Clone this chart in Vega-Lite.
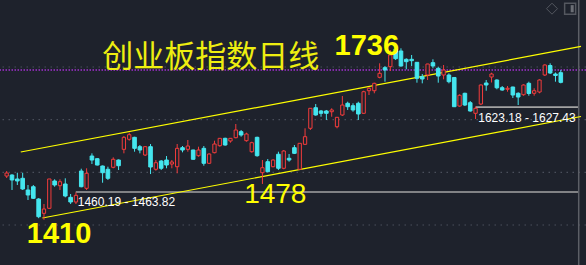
{
  "$schema": "https://vega.github.io/schema/vega-lite/v6.json",
  "width": 586,
  "height": 265,
  "autosize": {"type": "none"},
  "padding": 0,
  "background": "#1e222c",
  "config": {"view": {"stroke": null}},
  "datasets": {
    "candles": [
      {"i":1,"o":1493.0,"h":1502.5,"l":1489.2,"c":1498.7},
      {"i":2,"o":1494.9,"h":1496.5,"l":1466.5,"c":1485.5},
      {"i":3,"o":1487.4,"h":1499.3,"l":1476.0,"c":1483.6},
      {"i":4,"o":1488.7,"h":1499.3,"l":1466.5,"c":1468.4},
      {"i":5,"o":1466.5,"h":1476.0,"l":1447.5,"c":1457.0},
      {"i":6,"o":1472.7,"h":1476.0,"l":1449.4,"c":1450.7},
      {"i":7,"o":1449.4,"h":1451.0,"l":1413.0,"c":1415.8},
      {"i":8,"o":1422.2,"h":1439.9,"l":1410.0,"c":1430.4},
      {"i":9,"o":1431.7,"h":1487.4,"l":1431.7,"c":1487.4},
      {"i":10,"o":1483.6,"h":1486.8,"l":1472.7,"c":1476.0},
      {"i":11,"o":1474.6,"h":1486.8,"l":1466.5,"c":1482.2},
      {"i":12,"o":1477.9,"h":1488.7,"l":1452.6,"c":1455.1},
      {"i":13,"o":1452.6,"h":1458.9,"l":1439.9,"c":1443.7},
      {"i":14,"o":1443.7,"h":1462.0,"l":1439.9,"c":1456.4},
      {"i":15,"o":1502.5,"h":1506.9,"l":1471.6,"c":1472.7},
      {"i":16,"o":1469.7,"h":1507.7,"l":1466.5,"c":1498.2},
      {"i":17,"o":1531.0,"h":1536.1,"l":1515.8,"c":1523.4},
      {"i":18,"o":1525.9,"h":1527.0,"l":1513.0,"c":1513.9},
      {"i":19,"o":1512.0,"h":1513.0,"l":1480.3,"c":1499.3},
      {"i":20,"o":1505.8,"h":1510.7,"l":1485.5,"c":1488.7},
      {"i":21,"o":1509.6,"h":1528.5,"l":1507.7,"c":1524.8},
      {"i":22,"o":1523.4,"h":1524.5,"l":1504.4,"c":1512.6},
      {"i":23,"o":1543.7,"h":1569.0,"l":1536.1,"c":1566.5},
      {"i":24,"o":1562.7,"h":1575.3,"l":1560.1,"c":1571.5},
      {"i":25,"o":1566.5,"h":1567.5,"l":1539.2,"c":1545.6},
      {"i":26,"o":1548.7,"h":1551.9,"l":1536.1,"c":1542.4},
      {"i":27,"o":1532.9,"h":1550.0,"l":1531.0,"c":1548.7},
      {"i":28,"o":1548.7,"h":1553.8,"l":1496.8,"c":1510.1},
      {"i":29,"o":1505.8,"h":1523.4,"l":1503.1,"c":1518.3},
      {"i":30,"o":1521.5,"h":1523.4,"l":1504.4,"c":1507.7},
      {"i":31,"o":1523.4,"h":1531.0,"l":1507.7,"c":1513.9},
      {"i":32,"o":1515.8,"h":1523.4,"l":1507.7,"c":1519.6},
      {"i":33,"o":1510.7,"h":1553.8,"l":1498.2,"c":1545.6},
      {"i":34,"o":1546.8,"h":1550.0,"l":1538.0,"c":1542.4},
      {"i":35,"o":1543.7,"h":1561.4,"l":1539.2,"c":1550.0},
      {"i":36,"o":1542.4,"h":1543.0,"l":1524.0,"c":1524.8},
      {"i":37,"o":1531.6,"h":1548.7,"l":1529.7,"c":1542.4},
      {"i":38,"o":1545.6,"h":1550.0,"l":1512.6,"c":1517.2},
      {"i":39,"o":1517.2,"h":1536.1,"l":1515.8,"c":1534.8},
      {"i":40,"o":1537.3,"h":1560.1,"l":1536.1,"c":1553.8},
      {"i":41,"o":1550.6,"h":1565.2,"l":1548.7,"c":1564.6},
      {"i":42,"o":1564.6,"h":1565.8,"l":1550.6,"c":1551.9},
      {"i":43,"o":1559.5,"h":1565.2,"l":1556.3,"c":1564.6},
      {"i":44,"o":1565.8,"h":1591.8,"l":1564.6,"c":1580.4},
      {"i":45,"o":1577.2,"h":1580.4,"l":1567.7,"c":1570.9},
      {"i":46,"o":1560.1,"h":1575.3,"l":1558.2,"c":1572.8},
      {"i":47,"o":1539.2,"h":1558.2,"l":1537.3,"c":1556.3},
      {"i":48,"o":1566.5,"h":1567.7,"l":1529.7,"c":1531.6},
      {"i":49,"o":1499.3,"h":1523.4,"l":1478.0,"c":1508.8},
      {"i":50,"o":1520.2,"h":1525.3,"l":1500.5,"c":1501.2},
      {"i":51,"o":1510.7,"h":1524.8,"l":1509.6,"c":1523.4},
      {"i":52,"o":1534.3,"h":1539.2,"l":1504.4,"c":1507.7},
      {"i":53,"o":1507.7,"h":1542.4,"l":1505.8,"c":1540.5},
      {"i":54,"o":1526.7,"h":1534.8,"l":1520.2,"c":1523.4},
      {"i":55,"o":1546.8,"h":1551.9,"l":1534.8,"c":1536.1},
      {"i":56,"o":1505.8,"h":1555.1,"l":1505.8,"c":1555.1},
      {"i":57,"o":1553.2,"h":1583.6,"l":1551.9,"c":1567.7},
      {"i":58,"o":1583.6,"h":1622.0,"l":1580.4,"c":1621.6},
      {"i":59,"o":1622.7,"h":1629.7,"l":1607.5,"c":1608.9},
      {"i":60,"o":1616.5,"h":1618.4,"l":1605.6,"c":1612.1},
      {"i":61,"o":1616.5,"h":1618.4,"l":1599.4,"c":1612.1},
      {"i":62,"o":1615.1,"h":1621.6,"l":1605.6,"c":1618.4},
      {"i":63,"o":1586.6,"h":1605.0,"l":1583.6,"c":1604.5},
      {"i":64,"o":1608.9,"h":1644.9,"l":1607.0,"c":1627.8},
      {"i":65,"o":1631.1,"h":1634.1,"l":1618.4,"c":1624.6},
      {"i":66,"o":1626.5,"h":1631.1,"l":1615.1,"c":1618.4},
      {"i":67,"o":1631.1,"h":1634.1,"l":1599.4,"c":1610.8},
      {"i":68,"o":1612.1,"h":1655.0,"l":1611.5,"c":1653.1},
      {"i":69,"o":1655.0,"h":1661.5,"l":1646.8,"c":1659.6},
      {"i":70,"o":1655.0,"h":1670.2,"l":1650.1,"c":1669.0},
      {"i":71,"o":1680.4,"h":1707.0,"l":1678.5,"c":1688.0},
      {"i":72,"o":1698.7,"h":1701.9,"l":1672.1,"c":1694.3},
      {"i":73,"o":1700.6,"h":1732.3,"l":1692.4,"c":1722.8},
      {"i":74,"o":1733.6,"h":1736.0,"l":1713.3,"c":1715.8},
      {"i":75,"o":1730.4,"h":1735.5,"l":1700.6,"c":1701.9},
      {"i":76,"o":1714.6,"h":1716.5,"l":1695.6,"c":1710.1},
      {"i":77,"o":1714.6,"h":1722.8,"l":1701.9,"c":1712.0},
      {"i":78,"o":1708.9,"h":1709.5,"l":1670.2,"c":1678.5},
      {"i":79,"o":1681.6,"h":1686.7,"l":1669.0,"c":1677.2},
      {"i":80,"o":1684.8,"h":1706.0,"l":1675.3,"c":1705.7},
      {"i":81,"o":1708.2,"h":1714.6,"l":1697.5,"c":1701.9},
      {"i":82,"o":1697.5,"h":1700.6,"l":1670.2,"c":1682.9},
      {"i":83,"o":1684.8,"h":1703.8,"l":1676.6,"c":1694.3},
      {"i":84,"o":1684.8,"h":1688.0,"l":1669.0,"c":1672.1},
      {"i":85,"o":1680.1,"h":1681.0,"l":1624.0,"c":1624.6},
      {"i":86,"o":1625.9,"h":1648.2,"l":1624.6,"c":1646.3},
      {"i":87,"o":1650.1,"h":1651.2,"l":1625.9,"c":1627.8},
      {"i":88,"o":1632.2,"h":1635.4,"l":1615.1,"c":1616.5},
      {"i":89,"o":1612.1,"h":1625.0,"l":1601.3,"c":1621.6},
      {"i":90,"o":1629.7,"h":1667.0,"l":1627.8,"c":1665.8},
      {"i":91,"o":1669.6,"h":1675.3,"l":1655.0,"c":1665.8},
      {"i":92,"o":1681.0,"h":1689.2,"l":1670.6,"c":1686.7},
      {"i":93,"o":1675.3,"h":1676.6,"l":1657.7,"c":1660.5},
      {"i":94,"o":1660.7,"h":1663.9,"l":1655.0,"c":1656.3},
      {"i":95,"o":1657.7,"h":1663.9,"l":1653.1,"c":1659.6},
      {"i":96,"o":1662.0,"h":1662.6,"l":1641.1,"c":1646.8},
      {"i":97,"o":1650.1,"h":1652.0,"l":1627.8,"c":1643.0},
      {"i":98,"o":1647.4,"h":1667.1,"l":1645.5,"c":1665.8},
      {"i":99,"o":1669.0,"h":1672.1,"l":1645.5,"c":1649.7},
      {"i":100,"o":1650.1,"h":1659.6,"l":1645.5,"c":1655.0},
      {"i":101,"o":1652.5,"h":1676.6,"l":1650.1,"c":1675.3},
      {"i":102,"o":1684.8,"h":1705.1,"l":1682.9,"c":1703.8},
      {"i":103,"o":1702.8,"h":1707.0,"l":1686.7,"c":1688.6},
      {"i":104,"o":1686.7,"h":1689.6,"l":1672.1,"c":1683.9},
      {"i":105,"o":1689.2,"h":1694.3,"l":1669.0,"c":1670.9}
    ],
    "grid": [{"p":1400},{"p":1500},{"p":1600},{"p":1700}],
    "channel": [
      {"line":"upper","i":3.64,"p":1538.6},
      {"line":"upper","i":108.79,"p":1739.1},
      {"line":"lower","i":7.7,"p":1413.3},
      {"line":"lower","i":108.79,"p":1606.0}
    ],
    "gaps": [
      {"i":13.97,"i2":108.4,"p":1462.7},
      {"i":89.05,"i2":108.4,"p":1623.8}
    ],
    "gapLabels": [
      {"i":14.34,"p":1436.1,"t":"1460.19 - 1463.82"},
      {"i":89.51,"p":1595.6,"t":"1623.18 - 1627.43"}
    ],
    "bigLabels": [
      {"i":68.6,"p":1722.8,"t":"1736"},
      {"i":10.83,"p":1365.8,"t":"1410"}
    ],
    "midLabels": [
      {"i":51.41,"p":1441.2,"t":"1478"}
    ],
    "title": [{"i":18.95,"p":1700.0,"t":"创业板指数日线"}]
  },
  "layer": [
    {
      "data": {"name": "grid"},
      "mark": {"type": "rule", "stroke": "#4a4f5b", "strokeWidth": 1.2, "strokeDash": [1.5, 4.5]},
      "encoding": {"y": {"field": "p", "type": "quantitative", "scale": {"domain": [1324.1, 1827.2], "nice": false, "zero": false}, "axis": null}}
    },
    {
      "data": {"values": [{"p": 1694.3}]},
      "mark": {"type": "rule", "stroke": "#a12fcf", "strokeWidth": 1.3, "strokeDash": [1.5, 1.5]},
      "encoding": {"y": {"field": "p", "type": "quantitative", "scale": {"domain": [1324.1, 1827.2], "nice": false, "zero": false}, "axis": null}}
    },
    {
      "data": {"name": "gaps"},
      "mark": {"type": "rule", "stroke": "#a3a3a3", "strokeWidth": 1.6},
      "encoding": {
        "x": {"field": "i", "type": "quantitative", "scale": {"domain": [0.686, 108.79], "nice": false, "zero": false}, "axis": null},
        "x2": {"field": "i2"},
        "y": {"field": "p", "type": "quantitative", "scale": {"domain": [1324.1, 1827.2], "nice": false, "zero": false}, "axis": null}
      }
    },
    {
      "data": {"values": [{"i": 108.36}]},
      "mark": {"type": "rule", "stroke": "#5c5f66", "strokeWidth": 1.5},
      "encoding": {"x": {"field": "i", "type": "quantitative", "scale": {"domain": [0.686, 108.79], "nice": false, "zero": false}, "axis": null}}
    },
    {
      "data": {"name": "channel"},
      "mark": {"type": "line", "stroke": "#ffff00", "strokeWidth": 1.2},
      "encoding": {
        "x": {"field": "i", "type": "quantitative", "scale": {"domain": [0.686, 108.79], "nice": false, "zero": false}, "axis": null},
        "y": {"field": "p", "type": "quantitative", "scale": {"domain": [1324.1, 1827.2], "nice": false, "zero": false}, "axis": null},
        "detail": {"field": "line"}
      }
    },
    {
      "data": {"name": "candles"},
      "mark": {"type": "rule", "strokeWidth": 1},
      "encoding": {
        "x": {"field": "i", "type": "quantitative", "scale": {"domain": [0.686, 108.79], "nice": false, "zero": false}, "axis": null},
        "y": {"field": "l", "type": "quantitative", "scale": {"domain": [1324.1, 1827.2], "nice": false, "zero": false}, "axis": null},
        "y2": {"field": "h"},
        "color": {"condition": {"test": "datum.c >= datum.o", "value": "#f23c3c"}, "value": "#45e6ef"}
      }
    },
    {
      "data": {"name": "candles"},
      "mark": {"type": "bar", "strokeWidth": 1},
      "encoding": {
        "x": {"field": "i", "type": "quantitative", "scale": {"domain": [0.686, 108.79], "nice": false, "zero": false}, "axis": null},
        "y": {"field": "o", "type": "quantitative", "scale": {"domain": [1324.1, 1827.2], "nice": false, "zero": false}, "axis": null},
        "y2": {"field": "c"},
        "size": {"condition": {"test": "datum.c >= datum.o", "value": 3.3}, "value": 3.6},
        "fill": {"condition": {"test": "datum.c >= datum.o", "value": "#1e222c"}, "value": "#45e6ef"},
        "stroke": {"condition": {"test": "datum.c >= datum.o", "value": "#f23c3c"}, "value": "#45e6ef"}
      }
    },
    {
      "data": {"name": "gapLabels"},
      "mark": {"type": "text", "align": "left", "baseline": "alphabetic", "font": "Liberation Sans", "fontSize": 12, "fill": "#ffffff"},
      "encoding": {
        "x": {"field": "i", "type": "quantitative", "scale": {"domain": [0.686, 108.79], "nice": false, "zero": false}, "axis": null},
        "y": {"field": "p", "type": "quantitative", "scale": {"domain": [1324.1, 1827.2], "nice": false, "zero": false}, "axis": null},
        "text": {"field": "t"}
      }
    },
    {
      "data": {"name": "bigLabels"},
      "mark": {"type": "text", "align": "center", "baseline": "alphabetic", "font": "Liberation Sans", "fontSize": 29, "fontWeight": "bold", "fill": "#ffff00"},
      "encoding": {
        "x": {"field": "i", "type": "quantitative", "scale": {"domain": [0.686, 108.79], "nice": false, "zero": false}, "axis": null},
        "y": {"field": "p", "type": "quantitative", "scale": {"domain": [1324.1, 1827.2], "nice": false, "zero": false}, "axis": null},
        "text": {"field": "t"}
      }
    },
    {
      "data": {"name": "midLabels"},
      "mark": {"type": "text", "align": "center", "baseline": "alphabetic", "font": "Liberation Sans", "fontSize": 28, "fill": "#ffff00"},
      "encoding": {
        "x": {"field": "i", "type": "quantitative", "scale": {"domain": [0.686, 108.79], "nice": false, "zero": false}, "axis": null},
        "y": {"field": "p", "type": "quantitative", "scale": {"domain": [1324.1, 1827.2], "nice": false, "zero": false}, "axis": null},
        "text": {"field": "t"}
      }
    },
    {
      "data": {"name": "title"},
      "mark": {"type": "text", "align": "left", "baseline": "alphabetic", "font": "Noto Sans CJK SC", "fontSize": 31, "fill": "#eeee10"},
      "encoding": {
        "x": {"field": "i", "type": "quantitative", "scale": {"domain": [0.686, 108.79], "nice": false, "zero": false}, "axis": null},
        "y": {"field": "p", "type": "quantitative", "scale": {"domain": [1324.1, 1827.2], "nice": false, "zero": false}, "axis": null},
        "text": {"field": "t"}
      }
    },
    {
      "data": {"values": [{"i": 103.35, "p": 1810.7}]},
      "mark": {"type": "point", "shape": "diamond", "size": 121, "stroke": "#6b6e75", "strokeWidth": 1, "filled": false},
      "encoding": {
        "x": {"field": "i", "type": "quantitative", "scale": {"domain": [0.686, 108.79], "nice": false, "zero": false}, "axis": null},
        "y": {"field": "p", "type": "quantitative", "scale": {"domain": [1324.1, 1827.2], "nice": false, "zero": false}, "axis": null}
      }
    },
    {
      "data": {"values": [{"i": 106.75, "p": 1810.7}]},
      "mark": {"type": "point", "shape": "square", "size": 121, "stroke": "#6b6e75", "strokeWidth": 1.5, "filled": false},
      "encoding": {
        "x": {"field": "i", "type": "quantitative", "scale": {"domain": [0.686, 108.79], "nice": false, "zero": false}, "axis": null},
        "y": {"field": "p", "type": "quantitative", "scale": {"domain": [1324.1, 1827.2], "nice": false, "zero": false}, "axis": null}
      }
    },
    {
      "data": {"values": [{"i": 106.75, "p": 1810.7}]},
      "mark": {"type": "point", "shape": "M0.1,-0.65L0.65,-0.65L0.65,0.65L0.1,0.65Z", "size": 121, "fill": "#6b6e75", "strokeWidth": 0, "filled": true, "opacity": 1},
      "encoding": {
        "x": {"field": "i", "type": "quantitative", "scale": {"domain": [0.686, 108.79], "nice": false, "zero": false}, "axis": null},
        "y": {"field": "p", "type": "quantitative", "scale": {"domain": [1324.1, 1827.2], "nice": false, "zero": false}, "axis": null}
      }
    }
  ]
}
